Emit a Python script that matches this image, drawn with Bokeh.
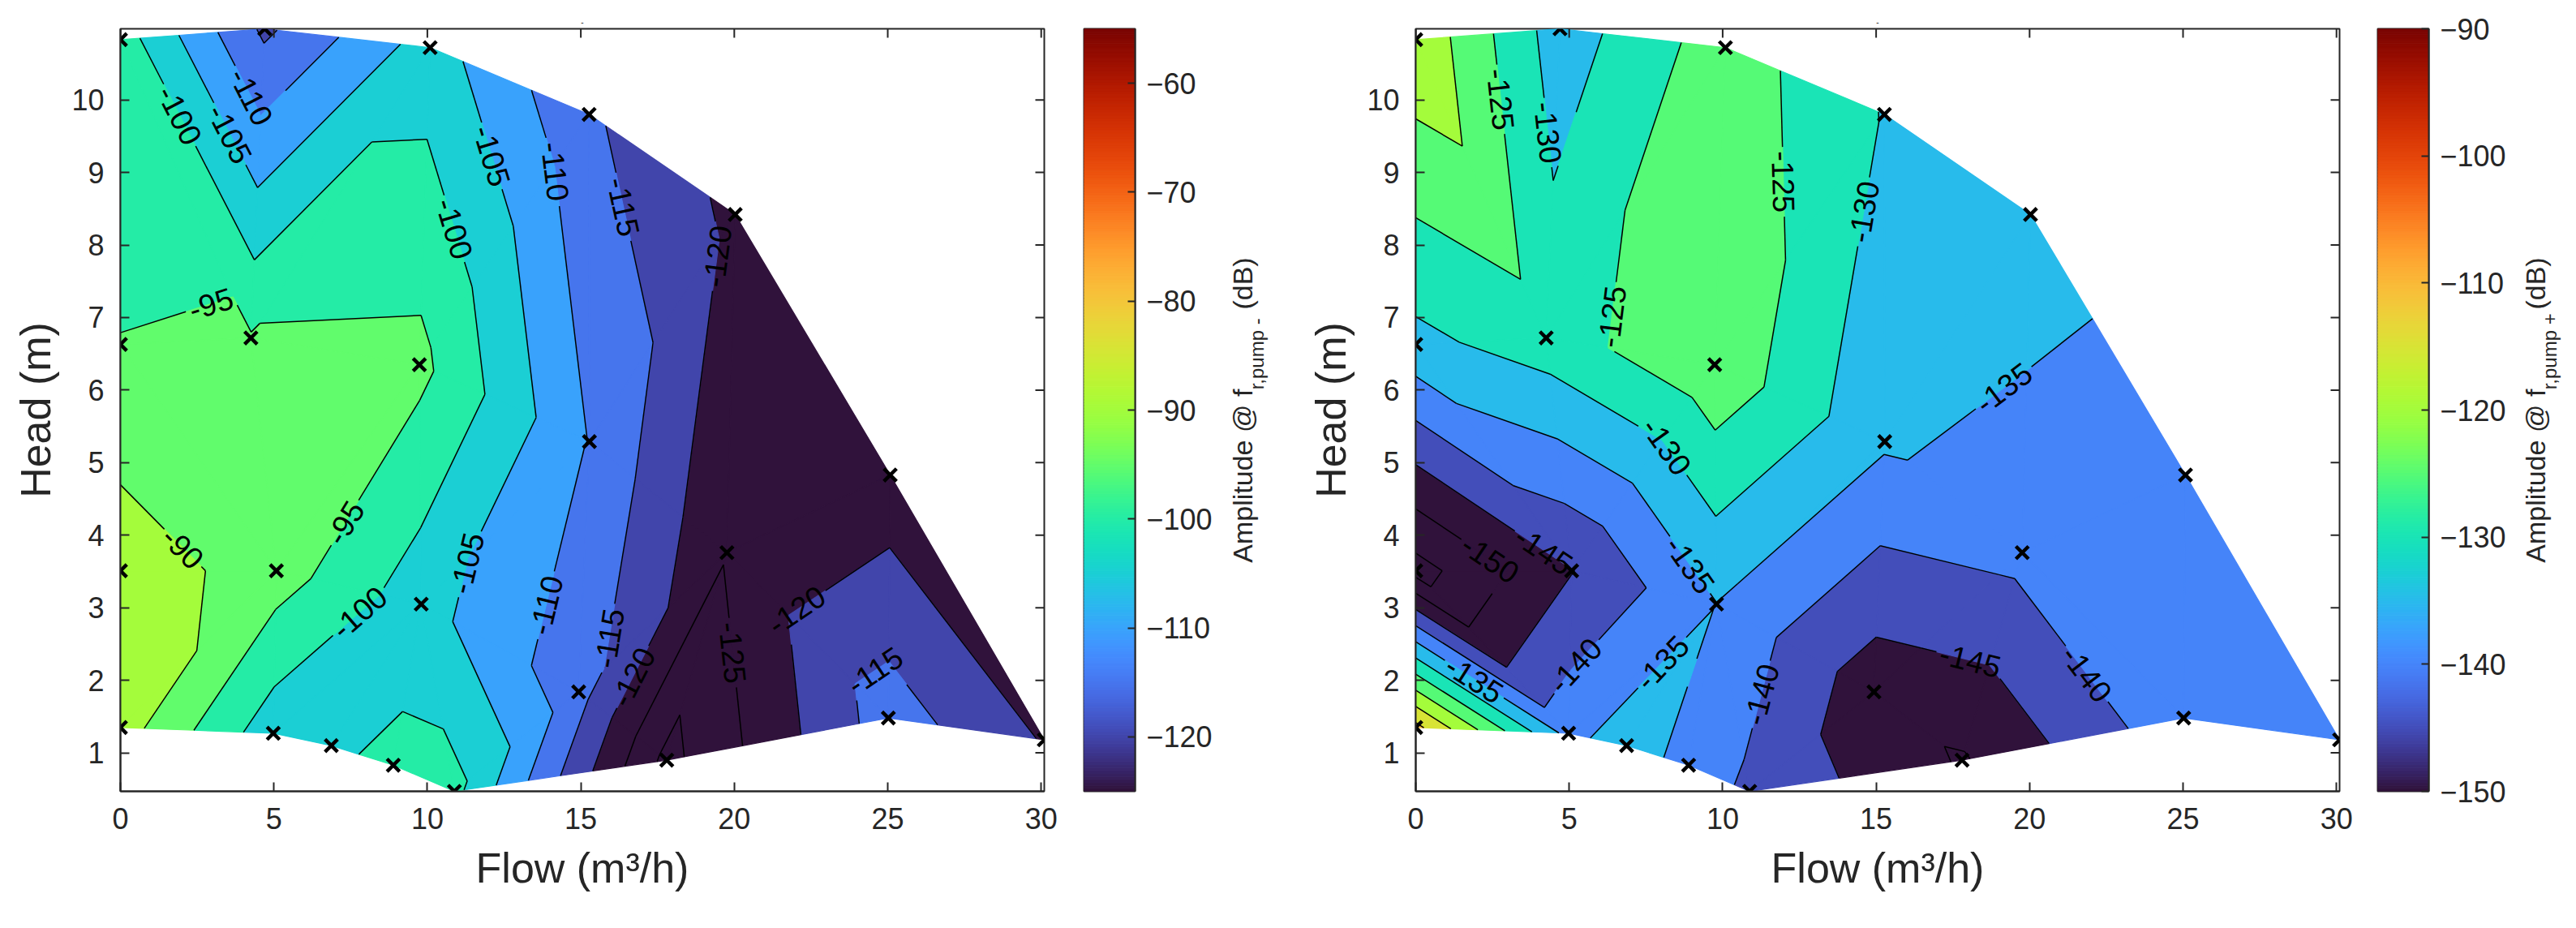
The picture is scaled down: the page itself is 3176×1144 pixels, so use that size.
import math
import numpy as np
from bokeh.plotting import figure
from bokeh.layouts import row
from bokeh.models import ColumnDataSource, FixedTicker, Range1d
from bokeh.palettes import Turbo256
from bokeh.embed import file_html
from bokeh.resources import INLINE
from bokeh.core.properties import value

# ---------------- data ----------------
point_ids = ["A", "B", "C", "D", "E", "F", "G", "H", "I", "J", "K", "L",
             "M", "N", "O", "P", "Q", "R", "S", "T", "U", "V", "W"]
flow_m3h = [0.00, 4.70, 10.09, 15.27, 20.03, 0.00, 4.25, 9.74, 0.00, 5.08, 9.80, 15.28,
            25.08, 19.76, 0.00, 4.98, 6.87, 8.89, 10.88, 14.93, 17.80, 25.02, 30.10]
head_m = [10.83, 10.98, 10.72, 9.80, 8.42, 6.63, 6.72, 6.35, 3.51, 3.51, 3.05, 5.29,
          4.83, 3.76, 1.35, 1.27, 1.10, 0.83, 0.47, 1.84, 0.90, 1.48, 1.18]
amp_pump_minus_db = [-97.5, -116.0, -102.6, -114.2, -121.2, -94.9, -94.6, -93.6, -87.0, -92.5, -103.0, -110.2,
                     -123.2, -124.6, -87.6, -103.0, -101.2, -98.5, -98.5, -113.0, -131.5, -112.5, -120.4]
amp_pump_plus_db = [-116.0, -132.7, -122.2, -130.3, -132.0, -131.4, -127.2, -121.2, -157.0, -145.2, -135.1, -134.3,
                    -139.5, -138.5, -108.5, -136.8, -132.0, -137.0, -141.0, -148.0, -150.5, -136.5, -137.0]

x_ticks = [0, 5, 10, 15, 20, 25, 30]
y_ticks = [1, 2, 3, 4, 5, 6, 7, 8, 9, 10]
cbar_minus_ticks = [-120, -110, -100, -90, -80, -70, -60]
cbar_plus_ticks = [-150, -140, -130, -120, -110, -100, -90]
clim_minus = (-125.0, -55.0)
clim_plus = (-150.0, -90.0)
contour_levels = list(range(-160, -79, 5))

# linear-interpolation mesh (triangles between measurement points)
mesh_common = [
    ("A", "F", "G"), ("A", "G", "B"), ("B", "G", "C"), ("G", "H", "C"), ("C", "H", "D"), ("D", "H", "L"),
    ("D", "L", "E"), ("L", "N", "E"), ("N", "M", "E"), ("N", "V", "M"), ("M", "V", "W"),
    ("F", "G", "J"), ("F", "J", "I"), ("G", "H", "J"), ("H", "K", "J"), ("H", "L", "K"), ("K", "L", "T"),
    ("L", "N", "T"), ("T", "N", "U"), ("N", "U", "V"),
    ("J", "K", "P"), ("P", "Q", "K"), ("Q", "R", "K"), ("R", "S", "K"), ("K", "S", "T"), ("S", "U", "T"),
]
mesh_minus_corner = [("I", "J", "O"), ("O", "J", "P")]
mesh_plus_corner = [("I", "O", "P"), ("I", "P", "J")]

# contour label hints: (level, flow, head)
labels_minus = [(-100, 2.07, 9.82), (-105, 3.6, 9.54), (-110, 4.43, 10.08), (-105, 11.8, 9.19),
                (-110, 13.9, 9.0), (-100, 10.68, 8.2), (-115, 16.1, 8.5), (-120, 19.15, 7.86),
                (-95, 3.13, 6.95), (-90, 2.07, 3.84), (-95, 7.44, 4.14), (-105, 11.8, 3.56),
                (-100, 7.79, 2.93), (-110, 14.2, 3.0), (-115, 16.04, 2.57), (-120, 16.72, 2.04),
                (-125, 19.69, 2.37), (-120, 21.85, 3.08), (-115, 24.68, 2.07)]
labels_plus = [(-125, 1.73, 9.96), (-130, 4.31, 9.55), (-125, 11.88, 8.87), (-130, 14.56, 8.46),
               (-125, 6.61, 7.0), (-130, 7.6, 5.05), (-135, 8.8, 3.55), (-150, 2.23, 3.55),
               (-145, 3.54, 3.39), (-140, 4.64, 2.42), (-135, 1.9, 2.01), (-135, 8.09, 2.22),
               (-140, 11.22, 1.81), (-135, 19.3, 5.95), (-140, 21.37, 1.93), (-145, 17.96, 2.09)]

# ---------------- layout constants ----------------
FONT = "Liberation Sans"
TXT = "#262626"
X0, X1 = 0.0, 30.1
Y0, Y1 = 0.47, 10.98
FRAME_W, FRAME_H = 1139, 940
BORDER_L, BORDER_R, BORDER_T, BORDER_B = 148, 20, 35, 150
FIG_H = BORDER_T + FRAME_H + BORDER_B
SX = FRAME_W / (X1 - X0)
SY = FRAME_H / (Y1 - Y0)
LABEL_FS = 38
TICK_LEN = 11


def turbo(v, lo, hi):
    f = (v - lo) / (hi - lo)
    i = int(math.floor(f * 256))
    return Turbo256[min(255, max(0, i))]


def clip_half(poly, vals, level, keep_above):
    out_p, out_v = [], []
    n = len(poly)
    for i in range(n):
        p1, v1 = poly[i], vals[i]
        p2, v2 = poly[(i + 1) % n], vals[(i + 1) % n]
        in1 = (v1 >= level) if keep_above else (v1 <= level)
        in2 = (v2 >= level) if keep_above else (v2 <= level)
        if in1:
            out_p.append(p1)
            out_v.append(v1)
        if in1 != in2:
            t = (level - v1) / (v2 - v1)
            out_p.append((p1[0] + t * (p2[0] - p1[0]), p1[1] + t * (p2[1] - p1[1])))
            out_v.append(level)
    return out_p, out_v


def subtract(intervals, t1, t2):
    out = []
    for a, b in intervals:
        if t2 <= a or t1 >= b:
            out.append((a, b))
            continue
        if t1 > a:
            out.append((a, t1))
        if t2 < b:
            out.append((t2, b))
    return out


def style_axis(ax, ticks, tick_len=TICK_LEN):
    ax.ticker = FixedTicker(ticks=ticks)
    ax.minor_tick_line_color = None
    ax.major_tick_in = tick_len
    ax.major_tick_out = 0
    ax.major_tick_line_color = TXT
    ax.major_tick_line_width = 2
    ax.axis_line_color = TXT
    ax.axis_line_width = 2
    ax.major_label_text_font = FONT
    ax.major_label_text_font_size = "36px"
    ax.major_label_text_color = TXT
    ax.axis_label_text_font = FONT
    ax.axis_label_text_font_size = "52px"
    ax.axis_label_text_font_style = "normal"
    ax.axis_label_text_color = TXT


def build_panel(values, mesh, clim, hints):
    idx = {n: i for i, n in enumerate(point_ids)}
    pts = list(zip(flow_m3h, head_m))
    p = figure(width=BORDER_L + FRAME_W + BORDER_R, height=FIG_H,
               x_range=Range1d(X0, X1), y_range=Range1d(Y0, Y1),
               min_border_left=BORDER_L, min_border_right=BORDER_R,
               min_border_top=BORDER_T, min_border_bottom=BORDER_B,
               toolbar_location=None, output_backend="svg", title="-")
    p.title.text_font_size = "10px"
    p.title.align = "center"
    p.title.text_color = TXT
    p.title.text_font_style = "normal"
    p.grid.visible = False
    p.outline_line_color = TXT
    p.outline_line_width = 2
    p.background_fill_color = "white"

    # filled bands (exact piecewise-linear interpolation per triangle)
    edges = [-1e9] + contour_levels + [1e9]
    bx, by, bc = [], [], []
    segs = {lev: [] for lev in contour_levels}
    for tri in mesh:
        ids = [idx[t] for t in tri]
        tp = [pts[i] for i in ids]
        tv = [values[i] for i in ids]
        vmin, vmax = min(tv), max(tv)
        for lo, hi in zip(edges[:-1], edges[1:]):
            if vmax <= lo or vmin >= hi:
                continue
            poly, vals = clip_half(tp, tv, lo, True)
            if len(poly) >= 3:
                poly, vals = clip_half(poly, vals, hi, False)
            if len(poly) < 3:
                continue
            bx.append([q[0] for q in poly])
            by.append([q[1] for q in poly])
            cval = lo if lo > -1e8 else hi - 5
            bc.append(turbo(cval, *clim))
        for lev in contour_levels:
            cross = []
            for a, b in ((0, 1), (1, 2), (2, 0)):
                va, vb = tv[a], tv[b]
                if (va - lev) * (vb - lev) < 0:
                    t = (lev - va) / (vb - va)
                    cross.append((tp[a][0] + t * (tp[b][0] - tp[a][0]), tp[a][1] + t * (tp[b][1] - tp[a][1])))
            if len(cross) == 2:
                segs[lev].append((cross[0], cross[1]))

    p.patches(xs="xs", ys="ys", fill_color="c", line_color="c", line_width=1.2,
              source=ColumnDataSource(dict(xs=bx, ys=by, c=bc)))

    # contour labels placed on the nearest contour point to each hint
    lx, ly, lt, la = [], [], [], []
    gaps = {lev: [] for lev in contour_levels}
    for lev, hx, hy in hints:
        best = None
        cx, cy = hx * SX, hy * SY
        for (q0, q1) in segs.get(lev, []):
            ax_, ay_ = q0[0] * SX, q0[1] * SY
            dx, dy = q1[0] * SX - ax_, q1[1] * SY - ay_
            L2 = dx * dx + dy * dy
            t = 0.0 if L2 == 0 else max(0.0, min(1.0, ((cx - ax_) * dx + (cy - ay_) * dy) / L2))
            px_, py_ = ax_ + t * dx, ay_ + t * dy
            d = (px_ - cx) ** 2 + (py_ - cy) ** 2
            if best is None or d < best[0]:
                best = (d, px_, py_, dx, dy)
        if best is None or best[0] > 120 ** 2:
            continue
        _, px_, py_, dx, dy = best
        ang = math.atan2(dy, dx)
        if ang > math.pi / 2:
            ang -= math.pi
        if ang <= -math.pi / 2:
            ang += math.pi
        text = str(lev)
        width = (0.333 + 0.556 * (len(text) - 1)) * LABEL_FS
        gaps[lev].append((px_, py_, width / 2 + 5))
        lx.append(px_ / SX)
        ly.append(py_ / SY)
        lt.append(text)
        la.append(ang)

    mx, my = [], []
    for lev in contour_levels:
        for (q0, q1) in segs[lev]:
            A = (q0[0] * SX, q0[1] * SY)
            D = (q1[0] * SX - A[0], q1[1] * SY - A[1])
            iv = [(0.0, 1.0)]
            a2 = D[0] ** 2 + D[1] ** 2
            if a2 > 0:
                for (gx, gy, r) in gaps[lev]:
                    fx, fy = A[0] - gx, A[1] - gy
                    b = 2 * (D[0] * fx + D[1] * fy)
                    c = fx * fx + fy * fy - r * r
                    disc = b * b - 4 * a2 * c
                    if disc <= 0:
                        continue
                    sq = math.sqrt(disc)
                    iv = subtract(iv, (-b - sq) / (2 * a2), (-b + sq) / (2 * a2))
            for s0, s1 in iv:
                if s1 - s0 < 1e-6:
                    continue
                mx.append([q0[0] + s0 * (q1[0] - q0[0]), q0[0] + s1 * (q1[0] - q0[0])])
                my.append([q0[1] + s0 * (q1[1] - q0[1]), q0[1] + s1 * (q1[1] - q0[1])])
    p.multi_line(xs="xs", ys="ys", line_color="black", line_width=1.5,
                 source=ColumnDataSource(dict(xs=mx, ys=my)))

    p.text(x="x", y="y", text="t", angle="a", text_align="center", text_baseline="middle",
           text_font=value(FONT), text_font_size=f"{LABEL_FS}px", text_color="black",
           source=ColumnDataSource(dict(x=lx, y=ly, t=lt, a=la)))

    p.scatter(flow_m3h, head_m, marker="x", size=22, line_width=4.5, line_color="black")

    # tick marks on the top and right edges of the box
    p.segment(x0=x_ticks, x1=x_ticks, y0=[Y1] * len(x_ticks), y1=[Y1 - TICK_LEN / SY] * len(x_ticks),
              line_color=TXT, line_width=2)
    p.segment(x0=[X1] * len(y_ticks), x1=[X1 - TICK_LEN / SX] * len(y_ticks), y0=y_ticks, y1=y_ticks,
              line_color=TXT, line_width=2)

    style_axis(p.xaxis[0], x_ticks)
    style_axis(p.yaxis[0], y_ticks)
    p.xaxis.axis_label = "Flow (m³/h)"
    p.yaxis.axis_label = "Head (m)"
    p.xaxis.major_label_standoff = 20
    p.xaxis.axis_label_standoff = 16
    p.yaxis.major_label_standoff = 20
    p.yaxis.axis_label_standoff = 12
    return p


def build_cbar(clim, ticks, left_pad, right_pad):
    lo, hi = clim
    c = figure(width=left_pad + 63 + right_pad, height=FIG_H,
               x_range=Range1d(0, 1), y_range=Range1d(lo, hi),
               min_border_left=left_pad, min_border_right=right_pad,
               min_border_top=BORDER_T, min_border_bottom=BORDER_B,
               toolbar_location=None, output_backend="svg",
               x_axis_location=None, y_axis_location="right")
    c.grid.visible = False
    edges = np.linspace(lo, hi, 257)
    cols = list(Turbo256)
    c.quad(left=0, right=1, bottom=edges[:-1], top=edges[1:], fill_color=cols, line_color=cols, line_width=1)
    c.outline_line_color = TXT
    c.outline_line_width = 2
    ax = c.yaxis[0]
    style_axis(ax, ticks, tick_len=9)
    ax.major_label_standoff = 14
    return c


def build_cbar_title(sub_text, width, base_x):
    t = figure(width=width, height=FIG_H, x_range=Range1d(0, width), y_range=Range1d(0, FRAME_H),
               min_border_left=0, min_border_right=0,
               min_border_top=BORDER_T, min_border_bottom=BORDER_B,
               toolbar_location=None, output_backend="svg",
               x_axis_location=None, y_axis_location=None)
    t.grid.visible = False
    t.outline_line_color = None
    main_fs, sub_fs = 34, 24
    w_main = 6.275 * main_fs
    w_sub = 3.723 * sub_fs
    w_end = 1.889 * main_fs
    total = w_main + w_sub + 0.278 * main_fs + w_end
    y0 = FRAME_H / 2 - total / 2
    parts = [("Amplitude @ f", base_x, y0, main_fs),
             (sub_text, base_x + 18, y0 + w_main, sub_fs),
             ("(dB)", base_x, y0 + w_main + w_sub + 0.278 * main_fs, main_fs)]
    for txt, xx, yy, fs in parts:
        t.text(x=[xx], y=[yy], text=[txt], angle=math.pi / 2, text_align="left",
               text_baseline="alphabetic", text_font=value(FONT), text_font_size=f"{fs}px", text_color=TXT)
    return t


mesh_minus = mesh_common + mesh_minus_corner
mesh_plus = mesh_common + mesh_plus_corner

p_left = build_panel(amp_pump_minus_db, mesh_minus, clim_minus, labels_minus)
c_left = build_cbar(clim_minus, cbar_minus_ticks, 29, 100)
t_left = build_cbar_title("r,pump -", 98, 32)
p_right = build_panel(amp_pump_plus_db, mesh_plus, clim_plus, labels_plus)
c_right = build_cbar(clim_plus, cbar_plus_ticks, 27, 100)
t_right = build_cbar_title("r,pump +", 66, 31)

layout = row(p_left, c_left, t_left, p_right, c_right, t_right, spacing=0)
open("out.html", "w").write(file_html(layout, INLINE))
